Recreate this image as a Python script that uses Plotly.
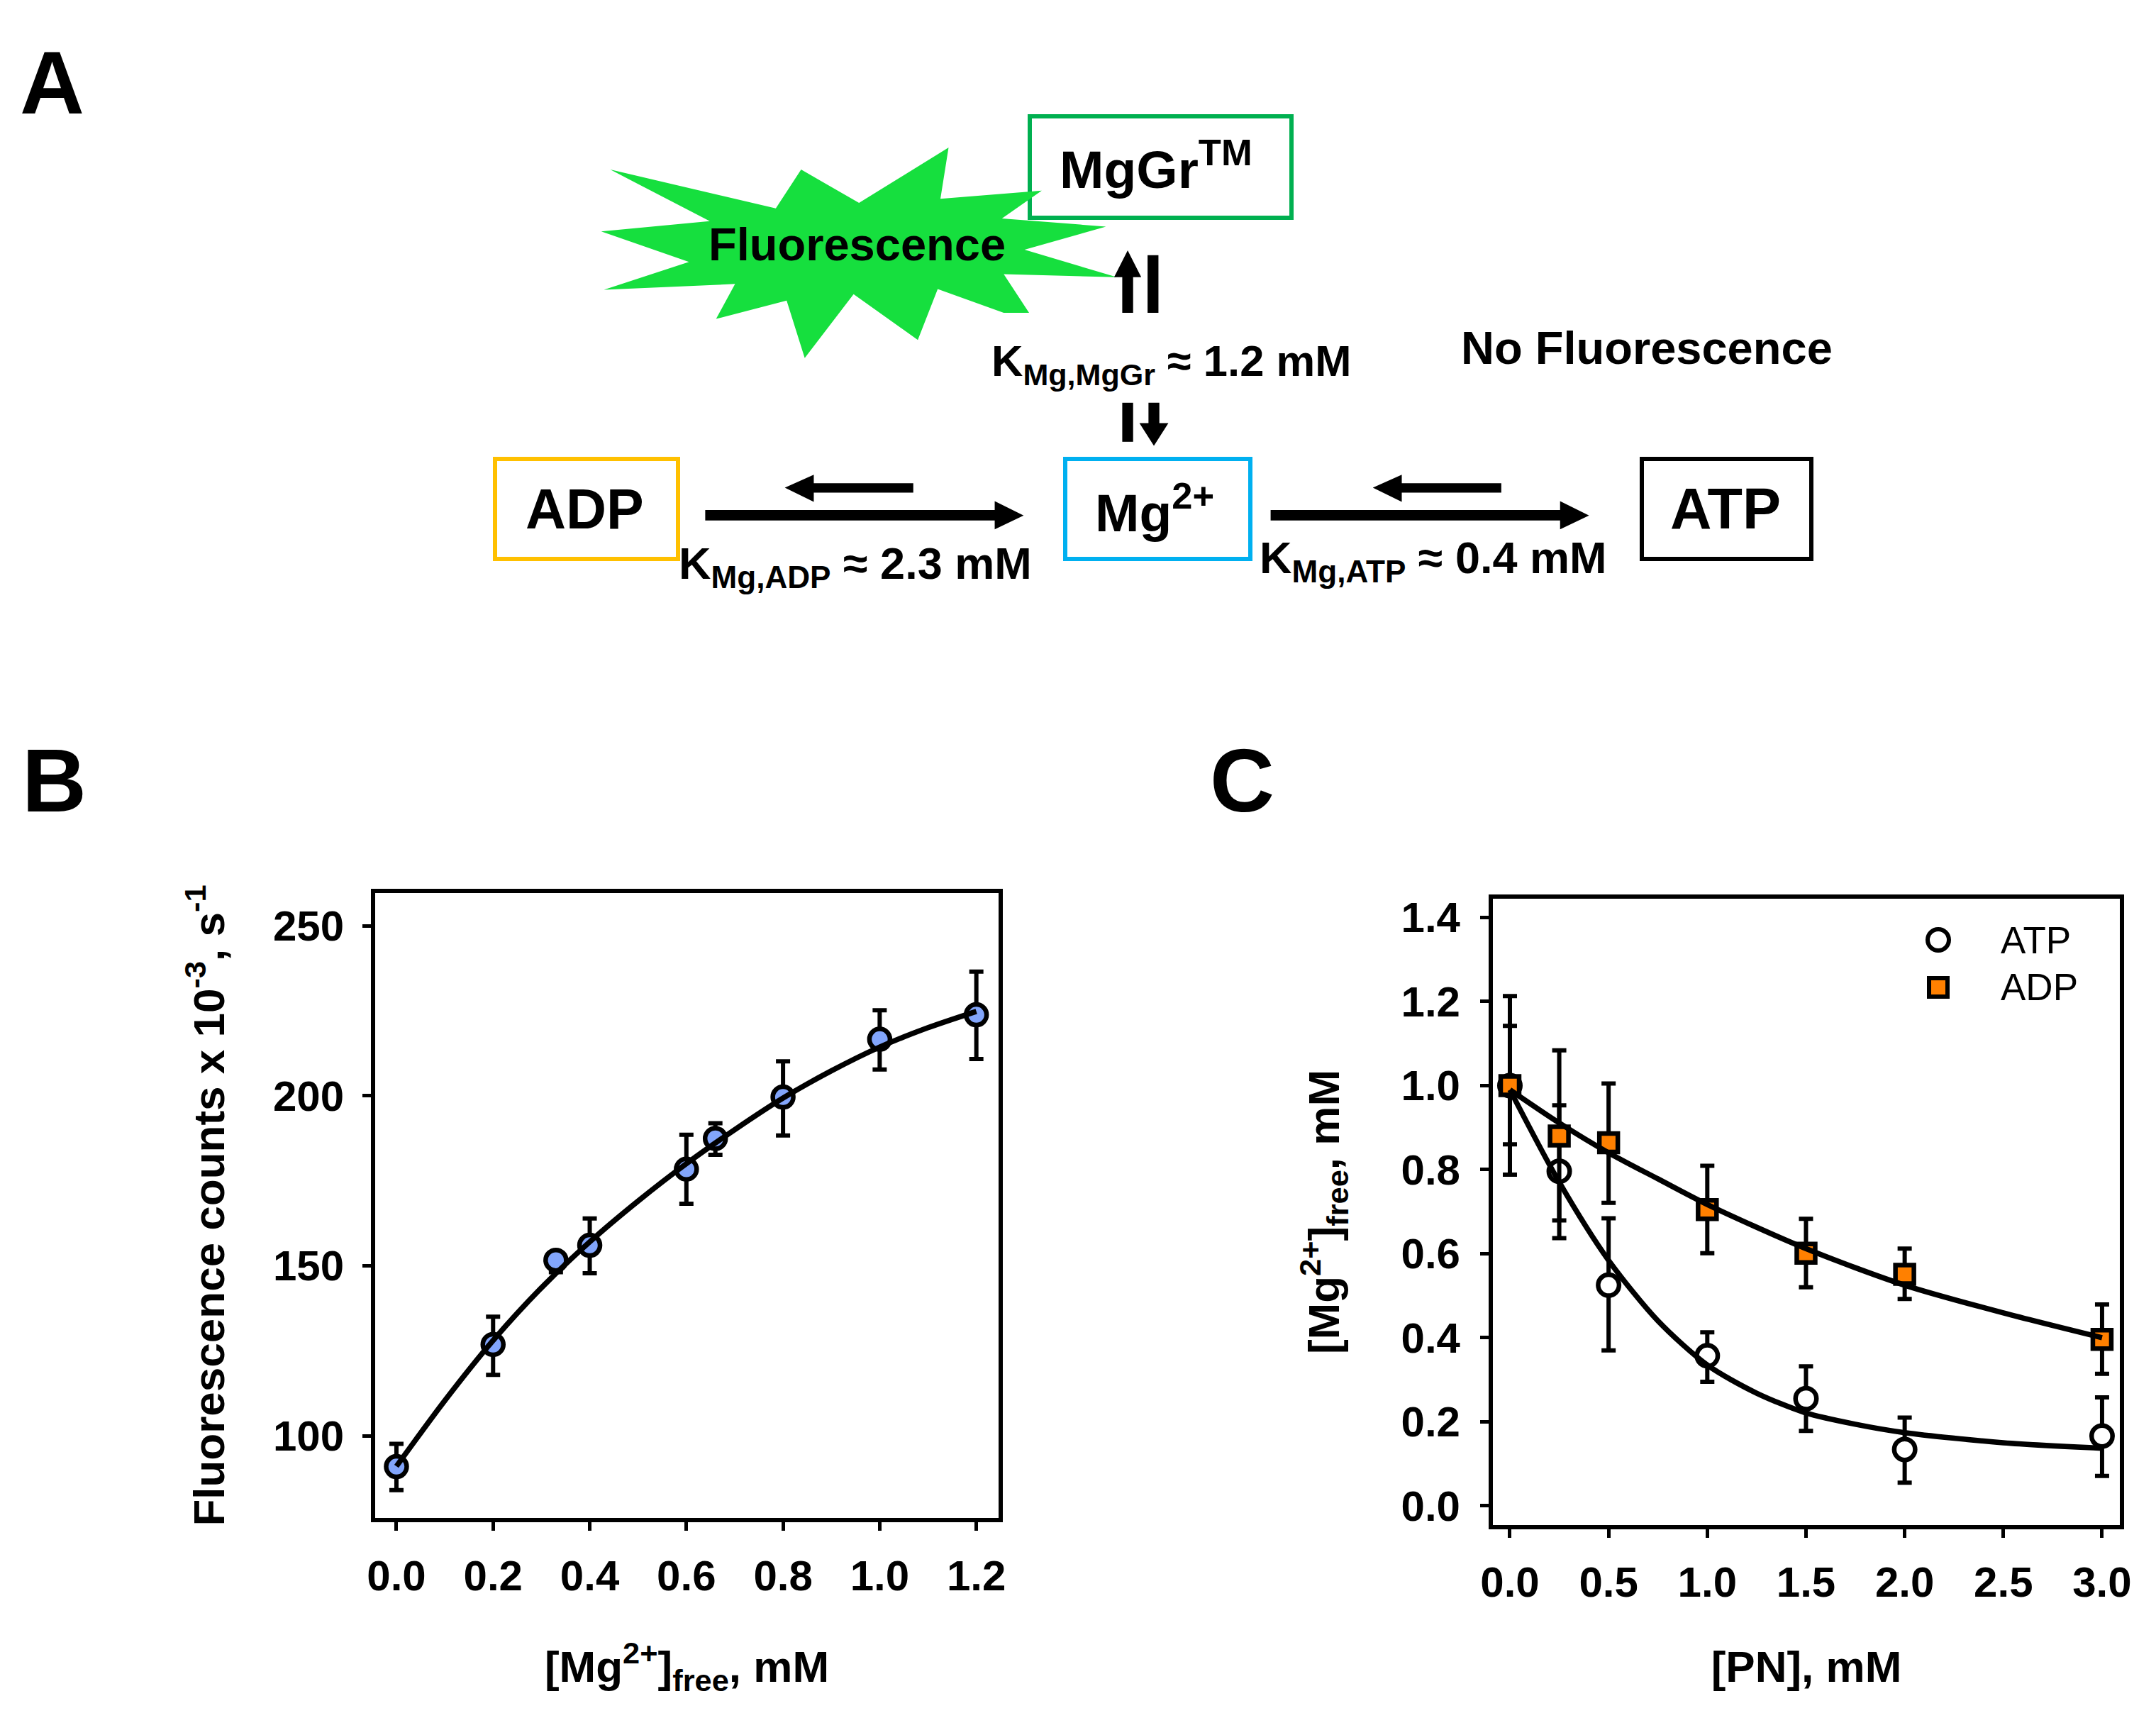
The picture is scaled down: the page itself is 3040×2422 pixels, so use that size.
import plotly.graph_objects as go

W, H = 3040, 2422
FONT = "Liberation Sans"

# panel B
b_x = [0.0, 0.2, 0.33, 0.4, 0.6, 0.66, 0.8, 1.0, 1.2]
b_y = [90.9, 126.8, 151.6, 156.0, 178.4, 187.4, 199.6, 216.6, 223.8]
b_err_up = [6.7, 8.2, 0.5, 7.9, 10.1, 4.5, 10.5, 8.5, 12.7]
b_err_down = [6.9, 8.9, 3.5, 8.2, 10.2, 4.8, 11.3, 8.9, 13.0]
b_fit_x = [0.0, 0.1, 0.2, 0.3, 0.4, 0.5, 0.6, 0.7, 0.8, 0.9, 1.0, 1.1, 1.2]
b_fit_y = [91.0, 110.3, 128.0, 143.5, 157.0, 169.0, 180.0, 190.0, 199.3, 207.3, 214.3, 220.0, 224.8]

# panel C
c_x = [0.0, 0.25, 0.5, 1.0, 1.5, 2.0, 3.0]
atp_y = [1.0, 0.796, 0.525, 0.357, 0.255, 0.134, 0.166]
atp_err_up = [0.213, 0.157, 0.159, 0.056, 0.077, 0.076, 0.092]
atp_err_down = [0.212, 0.159, 0.155, 0.062, 0.077, 0.079, 0.095]
adp_y = [1.0, 0.88, 0.864, 0.705, 0.601, 0.551, 0.396]
adp_err_up = [0.142, 0.204, 0.141, 0.104, 0.082, 0.061, 0.083]
adp_err_down = [0.14, 0.201, 0.143, 0.104, 0.081, 0.059, 0.082]
atp_fit_x = [0.0, 0.25, 0.5, 0.75, 1.0, 1.25, 1.5, 1.75, 2.0, 2.5, 3.0]
atp_fit_y = [0.99, 0.77, 0.584, 0.44, 0.335, 0.268, 0.221, 0.194, 0.174, 0.15, 0.137]
adp_fit_x = [0.0, 0.25, 0.5, 0.75, 1.0, 1.5, 2.0, 2.5, 3.0]
adp_fit_y = [0.99, 0.911, 0.84, 0.778, 0.717, 0.612, 0.525, 0.459, 0.40]


def px(x):
    return x / W


def py(y):
    return 1 - y / H


def zx(x):
    return 650 + x / 0.784


def zy(y):
    return 130 + y / 2.09


def poly(points, color):
    path = "M" + " L".join(f"{px(zx(a)):.5f},{py(zy(b)):.5f}" for a, b in points) + " Z"
    return dict(type="path", xref="paper", yref="paper", path=path,
                fillcolor=color, line=dict(width=0), layer="above")


def box(x0, y0, x1, y1, color):
    return dict(type="rect", xref="paper", yref="paper",
                x0=px(x0), x1=px(x1), y0=py(y0), y1=py(y1),
                line=dict(color=color, width=6), fillcolor="rgba(0,0,0,0)", layer="below")


def key(kind, cx, cy, half, color):
    return dict(type=kind, xref="paper", yref="paper",
                x0=px(cx - half), x1=px(cx + half), y0=py(cy + half), y1=py(cy - half),
                line=dict(color="black", width=6), fillcolor=color, layer="above")


def label(x, y, text, size=62, xanchor="center", weight=700):
    return dict(xref="paper", yref="paper", x=px(x), y=py(y), text=text, showarrow=False,
                xanchor=xanchor, yanchor="middle", align="center", borderpad=0,
                font=dict(family=FONT, size=size, color="black", weight=weight))


star = [(165, 228), (348, 342), (376, 228), (440, 326), (539, 163), (530, 314), (642, 290),
        (598, 372), (713, 396), (623, 464), (725, 545), (600, 536), (628, 650), (600, 650),
        (527, 580), (505, 730), (434, 595), (380, 783), (360, 614), (282, 668), (303, 565),
        (158, 582), (252, 500), (155, 410), (275, 380)]

shapes = [
    box(1452, 164, 1821, 307, "#00B050"),
    box(698, 647, 956, 788, "#FFC000"),
    box(1502, 647, 1763, 788, "#00B0F0"),
    box(2315, 647, 2554, 788, "black"),
    poly(star, "#16DF3E"),
    # vertical pair above Mg
    poly([(731, 650), (731, 545), (722, 545), (737, 466), (752, 545), (743, 545), (743, 650)], "black"),
    poly([(759, 480), (771, 480), (771, 650), (759, 650)], "black"),
    # vertical pair below KMg,MgGr
    poly([(731, 915), (743, 915), (743, 1030), (731, 1030)], "black"),
    poly([(760, 915), (772, 915), (772, 975), (782, 975), (766, 1042), (750, 975), (760, 975)], "black"),
    # horizontal arrows
    poly([(270, 1231), (590, 1231), (590, 1205), (622, 1247), (590, 1288), (590, 1262), (270, 1262)], "black"),
    poly([(500, 1152), (390, 1152), (390, 1127), (358, 1165), (390, 1207), (390, 1180), (500, 1180)], "black"),
    poly([(895, 1231), (1215, 1231), (1215, 1205), (1247, 1247), (1215, 1288), (1215, 1262), (895, 1262)], "black"),
    poly([(1150, 1152), (1040, 1152), (1040, 1127), (1008, 1165), (1040, 1207), (1040, 1180), (1150, 1180)], "black"),
    # legend keys of panel C
    key("circle", 2733, 1325, 15, "white"),
    key("rect", 2733, 1392, 13, "#FF8000"),
]

annotations = [
    label(27, 116, "A", size=126, xanchor="left"),
    label(30, 1100, "B", size=126, xanchor="left"),
    label(1705, 1100, "C", size=126, xanchor="left"),
    label(1630, 233, "MgGr<sup>TM</sup>", size=75),
    label(1208, 345, "Fluorescence", size=65),
    label(2322, 490, "No Fluorescence", size=65),
    label(1651, 513, "K<sub>Mg,MgGr</sub> ≈ 1.2 mM", size=61.5),
    label(824, 717, "ADP", size=79),
    label(1628, 717, "Mg<sup>2+</sup>", size=75),
    label(2433, 717, "ATP", size=81),
    label(1206, 798, "K<sub>Mg,ADP</sub> ≈ 2.3 mM", size=63),
    label(2021, 790, "K<sub>Mg,ATP</sub> ≈ 0.4 mM", size=63),
    label(2820, 1325, "ATP", size=53, xanchor="left", weight=400),
    label(2820, 1392, "ADP", size=53, xanchor="left", weight=400),
]

fig = go.Figure()

err_style = dict(type="data", symmetric=False, color="black", thickness=6, width=10)
fit_line = dict(color="black", width=7.5, shape="spline", smoothing=0.8)

# panel B
fig.add_trace(go.Scatter(
    x=b_x, y=b_y, mode="markers", xaxis="x", yaxis="y",
    marker=dict(symbol="circle", size=29, color="#82A5FB", line=dict(color="black", width=6.5)),
    error_y=dict(array=b_err_up, arrayminus=b_err_down, **err_style)))
fig.add_trace(go.Scatter(x=b_fit_x, y=b_fit_y, mode="lines", xaxis="x", yaxis="y", line=fit_line))

# panel C
fig.add_trace(go.Scatter(
    x=c_x, y=atp_y, mode="markers", name="ATP", xaxis="x2", yaxis="y2",
    marker=dict(symbol="circle", size=29.5, color="white", line=dict(color="black", width=6.5)),
    error_y=dict(array=atp_err_up, arrayminus=atp_err_down, **err_style)))
fig.add_trace(go.Scatter(
    x=c_x, y=adp_y, mode="markers", name="ADP", xaxis="x2", yaxis="y2",
    marker=dict(symbol="square", size=26, color="#FF8000", line=dict(color="black", width=6.5)),
    error_y=dict(array=adp_err_up, arrayminus=adp_err_down, **err_style)))
fig.add_trace(go.Scatter(x=atp_fit_x, y=atp_fit_y, mode="lines", xaxis="x2", yaxis="y2", line=fit_line))
fig.add_trace(go.Scatter(x=adp_fit_x, y=adp_fit_y, mode="lines", xaxis="x2", yaxis="y2", line=fit_line))

tick_font = dict(family=FONT, size=60, color="black", weight=700)
title_font = dict(family=FONT, size=62, color="black", weight=700)
axis_style = dict(showline=True, linecolor="black", linewidth=6, mirror=True, showgrid=False,
                  zeroline=False, ticks="outside", ticklen=12, tickwidth=5, tickcolor="black",
                  tickfont=tick_font, automargin=False)

fig.update_layout(
    width=W, height=H, margin=dict(l=0, r=0, t=0, b=0),
    paper_bgcolor="white", plot_bgcolor="white", showlegend=False,
    shapes=shapes, annotations=annotations,
    xaxis=dict(domain=[px(529), px(1408)], range=[-0.044, 1.246], anchor="y",
               tickvals=[0.0, 0.2, 0.4, 0.6, 0.8, 1.0, 1.2], tickformat=".1f", ticklabelstandoff=12,
               title=dict(text="[Mg<sup>2+</sup>]<sub>free</sub>, mM", font=title_font, standoff=76),
               **axis_style),
    yaxis=dict(domain=[py(2140), py(1259)], range=[75.8, 259.6], anchor="x",
               tickvals=[100, 150, 200, 250], ticklabelstandoff=14,
               title=dict(text="Fluorescence counts x 10<sup>-3</sup>, s<sup>-1</sup>", font=title_font, standoff=50),
               **axis_style),
    xaxis2=dict(domain=[px(2105), px(2989)], range=[-0.0862, 3.09], anchor="y2",
                tickvals=[0.0, 0.5, 1.0, 1.5, 2.0, 2.5, 3.0], tickformat=".1f", ticklabelstandoff=11,
                title=dict(text="[PN], mM", font=title_font, standoff=67),
                **axis_style),
    yaxis2=dict(domain=[py(2150), py(1267)], range=[-0.0459, 1.4447], anchor="x2",
                tickvals=[0.0, 0.2, 0.4, 0.6, 0.8, 1.0, 1.2, 1.4], tickformat=".1f", ticklabelstandoff=16,
                title=dict(text="[Mg<sup>2+</sup>]<sub>free</sub>, mM", font=title_font, standoff=69),
                **axis_style),
)

fig.write_html("out.html", config={"displayModeBar": False},
               post_script="document.body.style.margin='0';")
